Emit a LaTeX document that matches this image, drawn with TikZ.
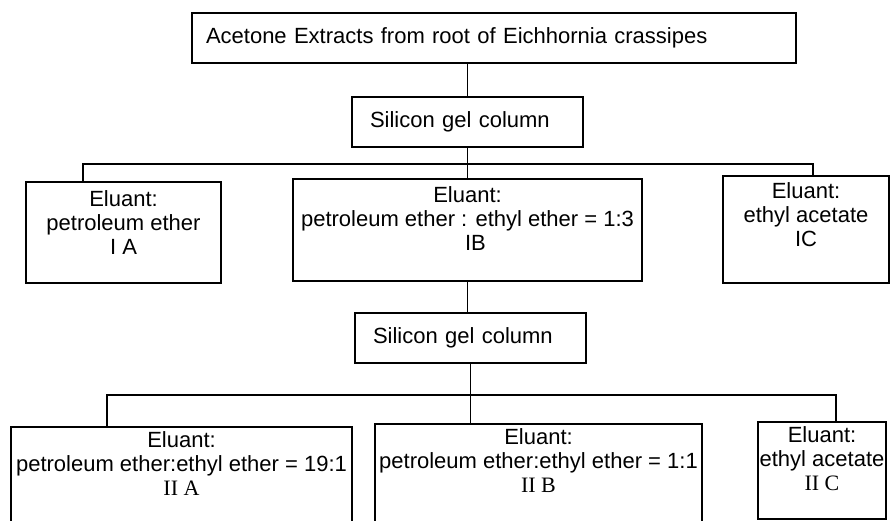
\documentclass[tikz,border=0pt]{standalone}
\usepackage{fontspec}
\setmainfont{Liberation Sans}
\newfontfamily\romanII{Liberation Serif}
\begin{document}
\begin{tikzpicture}[x=1pt,y=1pt,
  box/.style={draw, line width=1.5pt, inner sep=0pt},
  lbl/.style={align=center, inner sep=0pt, font=\fontsize{22}{24}\selectfont},
  wire/.style={line width=1.5pt}]
\useasboundingbox (0,0) rectangle (891,521);
\clip (0,0) rectangle (891,521);
% top
\node[box, lbl, text width=576pt, align=left, inner xsep=14pt, minimum height=50pt] (top) at (494,483) {Acetone Extracts from root of Eichhornia crassipes};
\node[box, lbl, text width=195pt, align=left, inner xsep=18pt, minimum height=50pt] (sg1) at (467.5,399) {Silicon gel column};
% row 1
\node[box, minimum width=195pt, minimum height=101pt] (IA) at (123.5,288.5) {};
\node[box, minimum width=349pt, minimum height=102pt] (IB) at (467.5,291) {};
\node[box, minimum width=166pt, minimum height=107pt] (IC) at (806,291.5) {};
\node[lbl, anchor=north] (IAt) at ([yshift=-9pt]IA.north) {Eluant:\\petroleum ether\\I A};
\node[lbl, anchor=north] (IBt) at ([yshift=-8pt]IB.north) {Eluant:\\petroleum ether : ethyl ether = 1:3\\\hspace*{16pt}IB};
\node[lbl, anchor=north] (ICt) at ([yshift=-7pt]IC.north) {Eluant:\\ethyl acetate\\IC};
% second column
\node[box, lbl, text width=195pt, align=left, inner xsep=18pt, minimum height=50pt] (sg2) at (470.5,183) {Silicon gel column};
% row 2
\node[box, minimum width=341pt, minimum height=103pt] (IIA) at (181.5,42.5) {};
\node[box, minimum width=327pt, minimum height=106pt] (IIB) at (538.5,44) {};
\node[box, minimum width=128pt, minimum height=97pt] (IIC) at (822,50.5) {};
\node[lbl, anchor=north] (IIAt) at ([yshift=-5pt]IIA.north) {Eluant:\\petroleum ether:ethyl ether = 19:1\\{\romanII II A}};
\node[lbl, anchor=north] (IIBt) at ([yshift=-5pt]IIB.north) {Eluant:\\petroleum ether:ethyl ether = 1:1\\{\romanII II B}};
\node[lbl, anchor=north] (IICt) at ([yshift=-5pt]IIC.north) {Eluant:\\ethyl acetate\\{\romanII II C}};
% connectors
\coordinate (b1L) at (83,357);
\coordinate (b1R) at (813,357);
\coordinate (b2L) at (107,126);
\coordinate (b2R) at (836,126);
\draw[wire] (sg1.north |- top.south) -- (sg1.north);
\draw[wire] (sg1.south) -- (IB.north);
\draw[wire] (IA.north -| b1L) |- (b1R) -- (b1R |- IC.north);
\draw[wire] (IB.south) -- (IB.south |- sg2.north);
\draw[wire] (sg2.south) -- (sg2.south |- IIB.north);
\draw[wire] (IIA.north -| b2L) |- (b2R) -- (b2R |- IIC.north);
\end{tikzpicture}
\end{document}
